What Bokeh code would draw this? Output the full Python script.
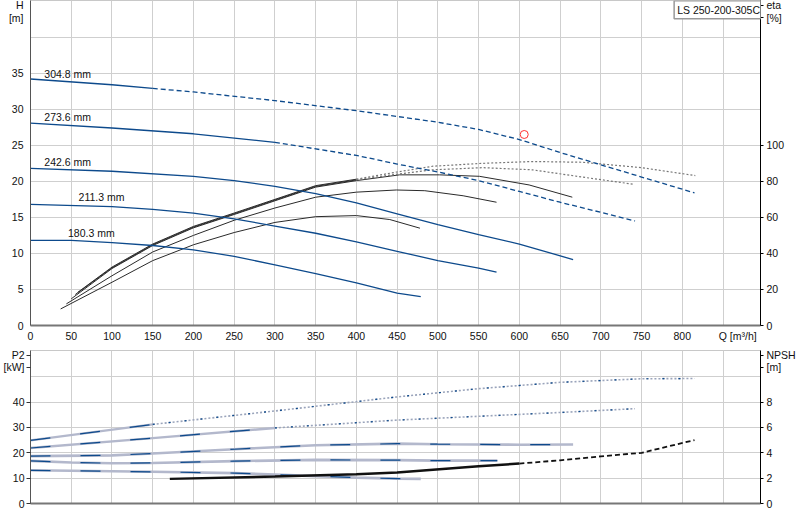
from bokeh.plotting import figure
from bokeh.models import Range1d, LinearAxis, Label, FixedTicker
from bokeh.layouts import column
from bokeh.embed import file_html
from bokeh.resources import INLINE
from bokeh.core.properties import value

# ---------------- data ----------------
q_grid = list(range(0, 851, 50))
q_ticks = list(range(0, 801, 50))
q_unit_pos = 868
q_unit_text = "Q [m\u00b3/h]"

h_grid = [0, 5, 10, 15, 20, 25, 30, 35, 40]
h_ticks = [0, 5, 10, 15, 20, 25, 30, 35]
eta_ticks = [0, 20, 40, 60, 80, 100]
p2_grid = [0, 10, 20, 30, 40, 50]
p2_ticks = [0, 10, 20, 30, 40]
npsh_ticks = [0, 2, 4, 6, 8]

# axis titles placed as extra tick labels (value -> text)
h_title = {44.4: "H", 42.7: "[m]"}
eta_title = {177.6: "eta", 170.8: "[%]"}
p2_title = {58.4: "P2", 53.8: "[kW]"}
npsh_title = {11.68: "NPSH", 10.76: "[m]"}

diam_labels = ["304.8 mm", "273.6 mm", "242.6 mm", "211.3 mm", "180.3 mm"]
diam_label_q = [17, 17, 17, 59, 46]
diam_label_h = [34.9, 28.9, 22.75, 17.8, 12.8]

pump_name = "LS 250-200-305C"

# head curves H [m]
h304_q = [0, 100, 150, 200, 300, 400, 450, 500, 550, 600, 650, 700, 750, 815]
h304_h = [34.2, 33.4, 32.9, 32.4, 31.2, 29.8, 29.0, 28.2, 27.2, 25.8, 24.0, 22.3, 20.6, 18.4]
h273_q = [0, 100, 200, 300, 400, 450, 500, 550, 600, 650, 700, 742]
h273_h = [28.07, 27.4, 26.6, 25.4, 23.6, 22.4, 21.3, 20.1, 18.6, 17.1, 15.7, 14.5]
h242_q = [0, 100, 200, 250, 300, 350, 400, 450, 500, 550, 600, 666]
h242_h = [21.8, 21.4, 20.7, 20.1, 19.3, 18.3, 17.0, 15.5, 14.0, 12.6, 11.3, 9.15]
h211_q = [0, 100, 150, 200, 250, 300, 350, 400, 450, 500, 550, 572]
h211_h = [16.8, 16.5, 16.1, 15.6, 14.8, 13.8, 12.8, 11.6, 10.3, 9.0, 7.95, 7.4]
h180_q = [0, 50, 100, 150, 200, 250, 300, 350, 400, 450, 479]
h180_h = [11.8, 11.8, 11.5, 11.1, 10.5, 9.6, 8.4, 7.2, 5.9, 4.5, 4.0]

duty_q = [606]
duty_h = [26.5]

# efficiency curves eta [%]
e180_q = [37, 100, 150, 200, 250, 300, 350, 400, 441, 478]
e180_v = [9.2, 24.0, 36.0, 44.8, 51.6, 57.2, 60.4, 61.0, 58.8, 54.0]
e211_q = [44, 100, 150, 200, 250, 300, 350, 400, 449, 484, 531, 572]
e211_v = [12.0, 27.6, 40.8, 50.0, 58.4, 65.2, 71.2, 74.0, 75.2, 74.8, 72.0, 68.4]
e242_q = [50, 100, 150, 200, 250, 300, 350, 400, 453, 502, 551, 612, 665]
e242_v = [14.8, 31.6, 44.4, 54.2, 61.6, 69.2, 76.8, 80.4, 83.6, 83.6, 82.8, 78.0, 71.2]
e273_q = [55, 100, 150, 200, 250, 300, 350, 400, 450, 494, 555, 616, 677, 740]
e273_v = [17.2, 32.0, 44.8, 54.6, 62.0, 69.6, 77.2, 80.8, 84.0, 86.4, 87.6, 86.4, 82.4, 78.4]
e304_q = [58, 100, 150, 200, 250, 300, 350, 400, 450, 494, 555, 616, 677, 750, 816]
e304_v = [18.4, 32.4, 45.2, 55.0, 62.4, 70.0, 77.6, 81.2, 85.2, 88.4, 90.0, 91.0, 90.6, 87.6, 83.2]

# power P2 [kW]
p304_q = [0, 150, 300, 449, 550, 650, 750, 815]
p304_v = [24.9, 31.2, 36.5, 42.0, 45.3, 47.8, 49.2, 49.3]
p273_q = [0, 150, 300, 450, 550, 650, 742]
p273_v = [21.9, 25.8, 29.8, 32.9, 34.4, 35.9, 37.4]
p242_q = [0, 100, 150, 250, 350, 450, 500, 600, 666]
p242_v = [18.7, 19.0, 19.7, 21.4, 23.0, 23.6, 23.4, 23.2, 23.3]
p211_q = [0, 50, 100, 150, 250, 350, 450, 500, 573]
p211_v = [16.8, 16.2, 15.9, 16.0, 16.7, 17.2, 17.1, 16.9, 16.9]
p180_q = [0, 150, 250, 300, 350, 400, 450, 479]
p180_v = [13.1, 12.5, 12.0, 11.4, 10.8, 10.2, 9.8, 9.7]

# NPSH [m]
npsh_q = [171, 300, 400, 450, 550, 600, 650, 700, 750, 815]
npsh_v = [1.94, 2.13, 2.31, 2.44, 2.94, 3.15, 3.41, 3.72, 4.0, 5.0]

# ---------------- style ----------------
FONT = "Liberation Sans"
FS = "10.5px"
BLUE = "#0d4a8c"
GRID = "#cfcfcf"
LAV = "#b3b8cc"
TXT = "#111111"


def split(qs, vs, q_cut):
    a_q = [q for q in qs if q <= q_cut]
    a_v = [v for q, v in zip(qs, vs) if q <= q_cut]
    b_q = [q for q in qs if q >= q_cut]
    b_v = [v for q, v in zip(qs, vs) if q >= q_cut]
    return (a_q, a_v), (b_q, b_v)


def base_fig(height, y_end, b_top, b_bottom, y_grid):
    p = figure(width=798, height=height, x_range=Range1d(0, 896), y_range=Range1d(0, y_end),
               output_backend="svg", toolbar_location=None,
               min_border_left=29, min_border_right=36, min_border_top=b_top,
               min_border_bottom=b_bottom)
    p.outline_line_color = "#c8c8c8"
    p.background_fill_color = "white"
    p.border_fill_color = "white"
    p.xgrid.ticker = FixedTicker(ticks=q_grid)
    p.ygrid.ticker = FixedTicker(ticks=y_grid)
    p.grid.grid_line_color = GRID
    p.grid.grid_line_width = 1
    for ax in (p.xaxis[0], p.yaxis[0]):
        ax.major_label_text_font = FONT
        ax.major_label_text_font_size = FS
        ax.major_label_text_color = TXT
        ax.minor_tick_line_color = None
    p.yaxis.axis_line_color = "#555555"
    p.yaxis.major_tick_line_color = None
    p.yaxis.major_tick_out = 0
    p.yaxis.major_tick_in = 0
    p.yaxis.major_label_standoff = 7
    p.xaxis.axis_line_color = "#777777"
    p.xaxis.axis_line_width = 2
    p.xaxis.major_tick_line_color = None
    p.xaxis.major_tick_out = 0
    p.xaxis.major_tick_in = 0
    p.xaxis.major_label_standoff = 4
    return p


def right_axis(p, name, ticks, titles):
    ax = LinearAxis(y_range_name=name, ticker=FixedTicker(ticks=ticks + list(titles.keys())))
    ax.major_label_overrides = titles
    ax.major_label_text_font = FONT
    ax.major_label_text_font_size = FS
    ax.major_label_text_color = TXT
    ax.axis_line_color = "#000000"
    ax.major_tick_line_color = "#000000"
    ax.major_tick_out = 3
    ax.major_tick_in = 0
    ax.minor_tick_line_color = None
    ax.major_label_standoff = 3
    p.add_layout(ax, "right")


# ---------------- top chart: H and eta ----------------
top = base_fig(345, 45.09, 0, 20, h_grid)
top.yaxis.ticker = FixedTicker(ticks=h_ticks + list(h_title.keys()))
top.yaxis.major_label_overrides = h_title
top.xaxis.ticker = FixedTicker(ticks=q_ticks + [q_unit_pos])
top.xaxis.major_label_overrides = {q_unit_pos: q_unit_text}
top.extra_y_ranges = {"eta": Range1d(0, 180.36)}
right_axis(top, "eta", eta_ticks, eta_title)

# efficiency curves
for qs, vs in ((e180_q, e180_v), (e211_q, e211_v), (e242_q, e242_v)):
    top.line(qs, vs, y_range_name="eta", line_color="#2a2a2a", line_width=1)
for qs, vs in ((e273_q, e273_v), (e304_q, e304_v)):
    (aq, av), (bq, bv) = split(qs, vs, 400)
    top.line(aq, av, y_range_name="eta", line_color="#2a2a2a", line_width=1)
    top.line(bq, bv, y_range_name="eta", line_color="#777777", line_width=1.2, line_dash="2 2")

# head curves
(aq, av), (bq, bv) = split(h304_q, h304_h, 150)
top.line(aq, av, line_color=BLUE, line_width=1.3)
top.line(bq, bv, line_color=BLUE, line_width=1.3, line_dash="5 3")
(aq, av), (bq, bv) = split(h273_q, h273_h, 300)
top.line(aq, av, line_color=BLUE, line_width=1.3)
top.line(bq, bv, line_color=BLUE, line_width=1.3, line_dash="5 3")
for qs, hs in ((h242_q, h242_h), (h211_q, h211_h), (h180_q, h180_h)):
    top.line(qs, hs, line_color=BLUE, line_width=1.3)

top.scatter(duty_q, duty_h, marker="circle", size=8, fill_color=None, line_color="#ff3333",
            line_width=1)

top.text(x=diam_label_q, y=diam_label_h, text=diam_labels, text_font=value(FONT),
         text_font_size=FS, text_color=TXT, text_baseline="middle", text_align="left")

top.add_layout(Label(x=790, y=43.8, text=pump_name, text_font=FONT, text_font_size=FS,
                     text_color=TXT, text_align="left", text_baseline="middle",
                     padding=3, border_line_color="#999999", border_line_width=1.5,
                     background_fill_color="white"))

# ---------------- bottom chart: P2 and NPSH ----------------
bot = base_fig(167, 60.35, 5, 9, p2_grid)
bot.yaxis.ticker = FixedTicker(ticks=p2_ticks + list(p2_title.keys()))
bot.yaxis.major_label_overrides = p2_title
bot.yaxis.major_tick_line_color = "#333333"
bot.yaxis.major_tick_out = 4
bot.yaxis.major_label_standoff = 2
bot.xaxis.ticker = FixedTicker(ticks=[])
bot.extra_y_ranges = {"npsh": Range1d(0, 12.07)}
right_axis(bot, "npsh", npsh_ticks, npsh_title)

for qs, vs in ((p242_q, p242_v), (p211_q, p211_v), (p180_q, p180_v)):
    bot.line(qs, vs, line_color=LAV, line_width=2.6)
    bot.line(qs, vs, line_color=BLUE, line_width=1.2, line_dash="20 30")
for qs, vs, cut in ((p304_q, p304_v, 150), (p273_q, p273_v, 300)):
    (aq, av), (bq, bv) = split(qs, vs, cut)
    bot.line(aq, av, line_color=LAV, line_width=2.4)
    bot.line(aq, av, line_color=BLUE, line_width=1.2, line_dash="20 30")
    bot.line(bq, bv, line_color="#9aa4bb", line_width=1.6, line_dash="2 2")
    bot.line(bq, bv, line_color=BLUE, line_width=1.2, line_dash="2 14")

(aq, av), (bq, bv) = split(npsh_q, npsh_v, 600)
bot.line(aq, av, y_range_name="npsh", line_color="#111111", line_width=2.4)
bot.line(bq, bv, y_range_name="npsh", line_color="#111111", line_width=1.8, line_dash="5 3")

layout = column(top, bot, spacing=0)
open("out.html", "w").write(file_html(layout, INLINE))
